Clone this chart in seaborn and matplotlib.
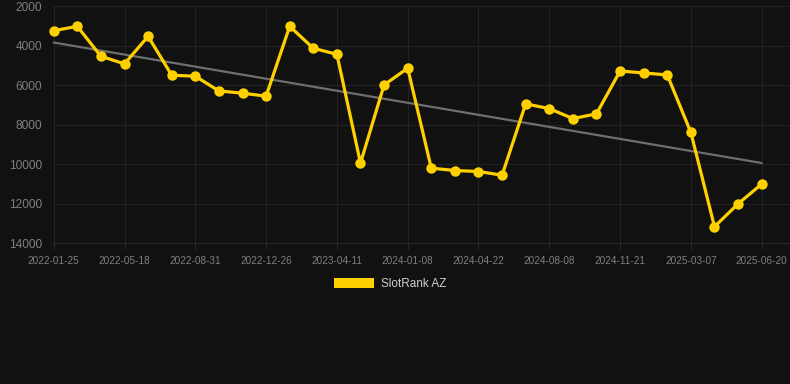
import numpy as np
import pandas as pd
import matplotlib
matplotlib.use("Agg")
import matplotlib.pyplot as plt
from matplotlib.patches import Patch
import seaborn as sns

# ---- data ----
tick_labels = ["2022-01-25", "2022-05-18", "2022-08-31", "2022-12-26", "2023-04-11",
               "2024-01-08", "2024-04-22", "2024-08-08", "2024-11-21", "2025-03-07",
               "2025-06-20"]
ranks = [3250, 3030, 4545, 4930, 3535, 5505, 5555, 6300, 6415, 6565,
         3030, 4140, 4445, 9955, 5995, 5150, 10210, 10330, 10380, 10565,
         6955, 7195, 7700, 7460, 5290, 5390, 5490, 8405, 13175, 12015, 11015]
series_name = "SlotRank AZ"

idx = np.arange(len(ranks))
df = pd.DataFrame({"idx": idx, "rank": ranks})

sns.set_theme(style="dark")
plt.rcParams["font.family"] = ["Liberation Sans", "DejaVu Sans"]

BG = "#111111"
GOLD = "#FFD000"

fig = plt.figure(figsize=(7.9, 3.84), dpi=100, facecolor=BG)
ax = fig.add_axes([53 / 790, (384 - 243) / 384, (790 - 53) / 790, (243 - 6) / 384])
ax.set_facecolor(BG)

# trend line (least squares over points)
coef = np.polyfit(idx, ranks, 1)
trend = pd.DataFrame({"idx": [idx[0], idx[-1]], "rank": np.polyval(coef, [idx[0], idx[-1]])})
sns.lineplot(data=trend, x="idx", y="rank", ax=ax, color="#6f6f6f", linewidth=1.6, zorder=2)

sns.lineplot(data=df, x="idx", y="rank", ax=ax, color=GOLD, linewidth=2.3,
             marker="o", markersize=7.5, markeredgewidth=0, zorder=3)
for ln in ax.lines:
    ln.set_clip_on(False)

ax.set_xlim(-0.03, 31.2)
ax.set_ylim(14000, 2000)
ax.set_yticks([2000, 4000, 6000, 8000, 10000, 12000, 14000])
ax.set_yticklabels([str(v) for v in [2000, 4000, 6000, 8000, 10000, 12000, 14000]])
ax.set_xticks(idx[::3])
ax.set_xticklabels(tick_labels)
ax.set_xlabel("")
ax.set_ylabel("")

ax.grid(True, color="#222222", linewidth=0.8)
for s in ["top", "right", "left"]:
    ax.spines[s].set_visible(False)
ax.spines["bottom"].set_color("#2a2a2a")
ax.spines["bottom"].set_linewidth(0.8)

ax.tick_params(axis="y", colors="#808080", labelsize=8.6, length=0, pad=8)
ax.tick_params(axis="x", colors="#2a2a2a", labelcolor="#808080", labelsize=7.2,
               length=4, width=0.8, pad=5, bottom=True)

handle = Patch(facecolor=GOLD, edgecolor="none", label=series_name)
leg = fig.legend(handles=[handle], loc="center", bbox_to_anchor=(390 / 790, 1 - 284 / 384),
                 frameon=False, fontsize=8.5, handlelength=3.4, handleheight=1.0,
                 handletextpad=0.6, labelcolor="#d0d0d0")

fig.savefig("out.png", dpi=100, facecolor=BG)
